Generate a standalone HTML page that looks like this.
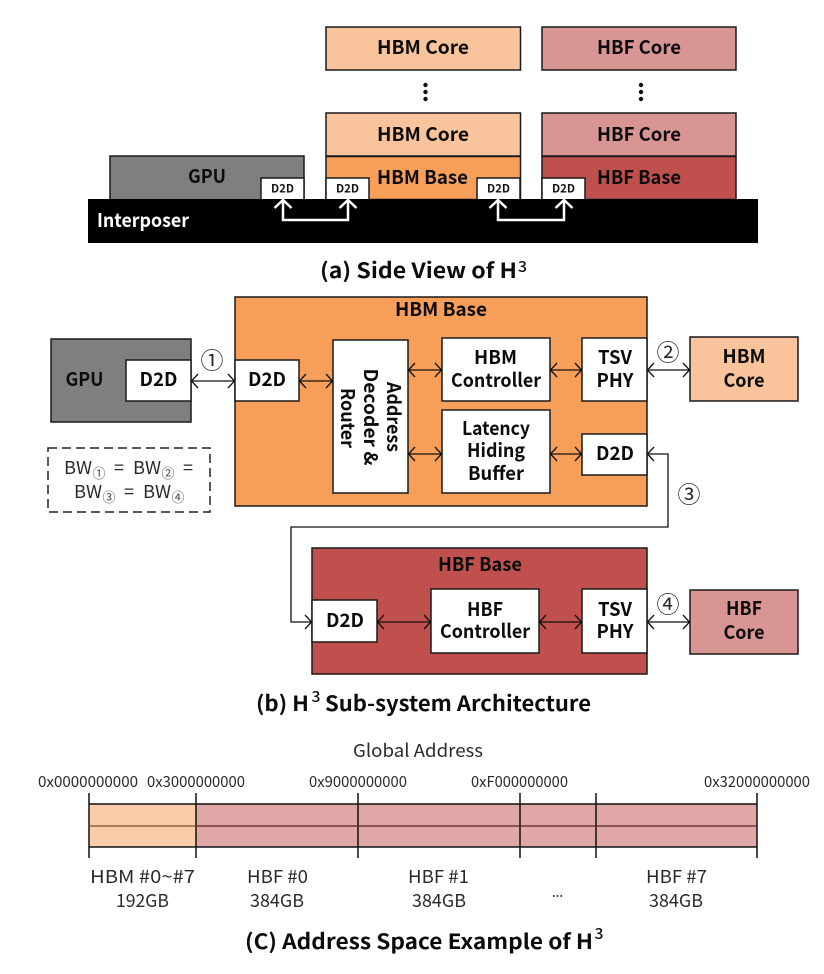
<!DOCTYPE html>
<html>
<head>
<meta charset="utf-8">
<style>
html,body{margin:0;padding:0;background:#fff;width:824px;height:974px;overflow:hidden}
svg{display:block}
text{font-family:"Noto Sans CJK KR","Liberation Sans",sans-serif}
.b{font-weight:700;font-size:19px;fill:#0c0c0c;text-anchor:middle}
.s{font-weight:700;font-size:11.500px;fill:#111;text-anchor:middle}
.t{font-weight:700;font-size:21px;fill:#0c0c0c}
.r{font-weight:400;font-size:18px;fill:#2a2a2a}
.h{font-weight:400;font-size:15px;fill:#2a2a2a}
.c{font-weight:400;font-size:23px;fill:#2a2a2a;text-anchor:middle}
.u{font-weight:400;font-size:13px;fill:#444;text-anchor:middle}
.box{stroke:#1a1a1a;stroke-width:1.5}
.w{fill:#fff;stroke:#1a1a1a;stroke-width:1.5}
.ar{fill:none;stroke:#111;stroke-width:1.3;marker-start:url(#ah);marker-end:url(#ah)}
</style>
</head>
<body>
<svg width="824" height="974" viewBox="0 0 824 974" xmlns="http://www.w3.org/2000/svg">
<defs>
<marker id="ah" markerUnits="userSpaceOnUse" markerWidth="10" markerHeight="16" refX="8" refY="8" orient="auto-start-reverse">
<path d="M1.5 1 L8 8 L1.5 15" fill="none" stroke="#111" stroke-width="1.3"/>
</marker>
</defs>

<!-- (a) side view -->
<rect class="box" x="326" y="27" width="194.500" height="43" fill="#F9C49B"/>
<rect class="box" x="542" y="27" width="194" height="43" fill="#D99594"/>
<text class="b" x="423" y="54" textLength="92" lengthAdjust="spacingAndGlyphs">HBM Core</text>
<text class="b" x="639" y="54" textLength="84" lengthAdjust="spacingAndGlyphs">HBF Core</text>
<g fill="#111">
<circle cx="425.500" cy="85" r="2.200"/><circle cx="425.500" cy="92" r="2.200"/><circle cx="425.500" cy="99" r="2.200"/>
<circle cx="641" cy="85" r="2.200"/><circle cx="641" cy="92" r="2.200"/><circle cx="641" cy="99" r="2.200"/>
</g>
<rect class="box" x="326" y="113" width="194.500" height="43" fill="#F9C49B"/>
<rect class="box" x="542" y="113" width="194" height="43" fill="#D99594"/>
<text class="b" x="423" y="141" textLength="92" lengthAdjust="spacingAndGlyphs">HBM Core</text>
<text class="b" x="639" y="141" textLength="84" lengthAdjust="spacingAndGlyphs">HBF Core</text>
<rect class="box" x="326" y="156.500" width="194.500" height="43" fill="#F79E59"/>
<rect class="box" x="542" y="156.500" width="194" height="43" fill="#C0504D"/>
<rect class="box" x="110" y="156" width="194" height="44" fill="#7F7F7F"/>
<text class="b" x="207" y="183" textLength="38" lengthAdjust="spacingAndGlyphs">GPU</text>
<text class="b" x="422.500" y="184" textLength="91" lengthAdjust="spacingAndGlyphs">HBM Base</text>
<text class="b" x="639" y="184" textLength="84" lengthAdjust="spacingAndGlyphs">HBF Base</text>
<rect class="w" x="261" y="178" width="43" height="22"/>
<rect class="w" x="326" y="178" width="43" height="22"/>
<rect class="w" x="477" y="178" width="43" height="22"/>
<rect class="w" x="542" y="178" width="43" height="22"/>
<text class="s" x="282.500" y="192.500" textLength="23" lengthAdjust="spacingAndGlyphs">D2D</text>
<text class="s" x="347.500" y="192.500" textLength="23" lengthAdjust="spacingAndGlyphs">D2D</text>
<text class="s" x="498.500" y="192.500" textLength="23" lengthAdjust="spacingAndGlyphs">D2D</text>
<text class="s" x="563.500" y="192.500" textLength="23" lengthAdjust="spacingAndGlyphs">D2D</text>
<rect x="88" y="199" width="670" height="44" fill="#000"/>
<text x="97" y="227" font-size="19" font-weight="700" fill="#fff" textLength="92" lengthAdjust="spacingAndGlyphs">Interposer</text>
<g fill="none" stroke="#fff" stroke-width="2.500">
<path d="M283 201 V220 H348 V201"/>
<path d="M274.500 208 L283 200 L291.500 208"/>
<path d="M339.500 208 L348 200 L356.500 208"/>
<path d="M498 201 V220 H564 V201"/>
<path d="M489.500 208 L498 200 L506.500 208"/>
<path d="M555.500 208 L564 200 L572.500 208"/>
</g>
<text class="t" x="320" y="278" textLength="197" lengthAdjust="spacingAndGlyphs">(a) Side View of H</text>
<text x="518" y="272" font-size="15" font-weight="500" fill="#111" textLength="9" lengthAdjust="spacingAndGlyphs">3</text>

<!-- (b) -->
<rect class="box" x="51" y="339" width="140" height="83" fill="#7F7F7F"/>
<rect class="box" x="235" y="297" width="412" height="209" fill="#F79E59"/>
<rect class="box" x="312" y="548" width="335" height="126" fill="#C0504D"/>
<rect class="w" x="126" y="360" width="65" height="41"/>
<rect class="w" x="235" y="360" width="64" height="41"/>
<rect class="w" x="333" y="340" width="75" height="153"/>
<rect class="w" x="442" y="338" width="108" height="63"/>
<rect class="w" x="442" y="410" width="108" height="83"/>
<rect class="w" x="582" y="338" width="65" height="63"/>
<rect class="w" x="582" y="434" width="65" height="41"/>
<rect class="box" x="690" y="337" width="108" height="64" fill="#F9C49B"/>
<rect class="w" x="312" y="600" width="65" height="42"/>
<rect class="w" x="431" y="589" width="108" height="64"/>
<rect class="w" x="582" y="589" width="65" height="64"/>
<rect class="box" x="690" y="590" width="108" height="64" fill="#D99594"/>
<rect x="48" y="448" width="162" height="64" fill="none" stroke="#222" stroke-width="1.500" stroke-dasharray="9 5"/>

<path class="ar" d="M191.500 381 H234.500"/>
<path class="ar" d="M299.500 381 H332.500"/>
<path class="ar" d="M408.500 370 H441.500"/>
<path class="ar" d="M550.500 370 H581.500"/>
<path class="ar" d="M647.500 370 H689.500"/>
<path class="ar" d="M408.500 454 H441.500"/>
<path class="ar" d="M550.500 454 H581.500"/>
<path class="ar" d="M647.500 454 H668 V527 H291 V622 H311.500"/>
<path class="ar" d="M377.500 622 H430.500"/>
<path class="ar" d="M539.500 622 H581.500"/>
<path class="ar" d="M647.500 622 H689.500"/>

<text class="b" x="441" y="316" textLength="92" lengthAdjust="spacingAndGlyphs">HBM Base</text>
<text class="b" x="84.500" y="386" textLength="38" lengthAdjust="spacingAndGlyphs">GPU</text>
<text class="b" x="158.500" y="386" textLength="38" lengthAdjust="spacingAndGlyphs">D2D</text>
<text class="b" x="267" y="386" textLength="38" lengthAdjust="spacingAndGlyphs">D2D</text>
<text class="b" transform="translate(387 417) rotate(90)" textLength="70" lengthAdjust="spacingAndGlyphs">Address</text>
<text class="b" transform="translate(364 417) rotate(90)" textLength="97" lengthAdjust="spacingAndGlyphs">Decoder &amp;</text>
<text class="b" transform="translate(341 418) rotate(90)" textLength="60" lengthAdjust="spacingAndGlyphs">Router</text>
<text class="b" x="495.500" y="364" textLength="43" lengthAdjust="spacingAndGlyphs">HBM</text>
<text class="b" x="496" y="387" textLength="90" lengthAdjust="spacingAndGlyphs">Controller</text>
<text class="b" x="496" y="435" textLength="68" lengthAdjust="spacingAndGlyphs">Latency</text>
<text class="b" x="496" y="457" textLength="58" lengthAdjust="spacingAndGlyphs">Hiding</text>
<text class="b" x="496" y="480" textLength="56" lengthAdjust="spacingAndGlyphs">Buffer</text>
<text class="b" x="615" y="364" textLength="34" lengthAdjust="spacingAndGlyphs">TSV</text>
<text class="b" x="615" y="387" textLength="37" lengthAdjust="spacingAndGlyphs">PHY</text>
<text class="b" x="615" y="460" textLength="38" lengthAdjust="spacingAndGlyphs">D2D</text>
<text class="b" x="744" y="363" textLength="43" lengthAdjust="spacingAndGlyphs">HBM</text>
<text class="b" x="744" y="387" textLength="41" lengthAdjust="spacingAndGlyphs">Core</text>
<text class="b" x="480" y="571" textLength="84" lengthAdjust="spacingAndGlyphs">HBF Base</text>
<text class="b" x="345" y="627" textLength="38" lengthAdjust="spacingAndGlyphs">D2D</text>
<text class="b" x="485" y="616" textLength="36" lengthAdjust="spacingAndGlyphs">HBF</text>
<text class="b" x="485" y="638" textLength="90" lengthAdjust="spacingAndGlyphs">Controller</text>
<text class="b" x="615" y="616" textLength="34" lengthAdjust="spacingAndGlyphs">TSV</text>
<text class="b" x="615" y="638" textLength="37" lengthAdjust="spacingAndGlyphs">PHY</text>
<text class="b" x="744" y="615" textLength="36" lengthAdjust="spacingAndGlyphs">HBF</text>
<text class="b" x="744" y="639" textLength="41" lengthAdjust="spacingAndGlyphs">Core</text>

<text class="c" x="212" y="368.500">①</text>
<text class="c" x="668" y="360.500">②</text>
<text class="c" x="689" y="502.500">③</text>
<text class="c" x="668" y="612.500">④</text>

<text class="r" x="64" y="474" textLength="28" lengthAdjust="spacingAndGlyphs">BW</text>
<text class="u" x="99" y="478">①</text>
<text class="r" x="114" y="474" textLength="10" lengthAdjust="spacingAndGlyphs">=</text>
<text class="r" x="133" y="474" textLength="28" lengthAdjust="spacingAndGlyphs">BW</text>
<text class="u" x="168" y="478">②</text>
<text class="r" x="183" y="474" textLength="10" lengthAdjust="spacingAndGlyphs">=</text>
<text class="r" x="74" y="498" textLength="28" lengthAdjust="spacingAndGlyphs">BW</text>
<text class="u" x="109" y="502">③</text>
<text class="r" x="124" y="498" textLength="10" lengthAdjust="spacingAndGlyphs">=</text>
<text class="r" x="143" y="498" textLength="28" lengthAdjust="spacingAndGlyphs">BW</text>
<text class="u" x="178" y="502">④</text>

<text class="t" x="256" y="711" textLength="53" lengthAdjust="spacingAndGlyphs">(b) H</text>
<text x="311.500" y="702" font-size="15" font-weight="500" fill="#111" textLength="9" lengthAdjust="spacingAndGlyphs">3</text>
<text class="t" x="325" y="711" textLength="266" lengthAdjust="spacingAndGlyphs">Sub-system Architecture</text>

<!-- (c) -->
<text class="r" x="353" y="757" textLength="130" lengthAdjust="spacingAndGlyphs">Global Address</text>
<text class="h" x="38" y="787" textLength="100" lengthAdjust="spacingAndGlyphs">0x0000000000</text>
<text class="h" x="147" y="787" textLength="98" lengthAdjust="spacingAndGlyphs">0x3000000000</text>
<text class="h" x="309" y="787" textLength="98" lengthAdjust="spacingAndGlyphs">0x9000000000</text>
<text class="h" x="471" y="787" textLength="97" lengthAdjust="spacingAndGlyphs">0xF000000000</text>
<text class="h" x="704" y="787" textLength="106" lengthAdjust="spacingAndGlyphs">0x32000000000</text>

<rect x="89" y="804" width="107" height="43" fill="#FACDA8"/>
<rect x="196" y="804" width="561" height="43" fill="#DFA7A5"/>
<g stroke="#111" stroke-width="1.500" fill="none">
<path d="M89 804 H757 M89 847 H757"/>
<path d="M89 793 V858 M196 793 V858 M358 793 V858 M520 793 V858 M596 793 V858 M757 793 V858"/>
</g>
<path d="M89 826 H196" stroke="#7A5030" stroke-width="1.200"/>
<path d="M196 826 H757" stroke="#5A2020" stroke-width="1.200"/>

<text class="r" x="90" y="883" textLength="105" lengthAdjust="spacingAndGlyphs">HBM #0~#7</text>
<text class="r" x="116" y="907" textLength="53" lengthAdjust="spacingAndGlyphs">192GB</text>
<text class="r" x="247" y="883" textLength="61" lengthAdjust="spacingAndGlyphs">HBF #0</text>
<text class="r" x="250" y="907" textLength="54" lengthAdjust="spacingAndGlyphs">384GB</text>
<text class="r" x="408" y="883" textLength="61" lengthAdjust="spacingAndGlyphs">HBF #1</text>
<text class="r" x="412" y="907" textLength="54" lengthAdjust="spacingAndGlyphs">384GB</text>
<text class="h" x="552" y="897" textLength="11" lengthAdjust="spacingAndGlyphs">...</text>
<text class="r" x="646" y="883" textLength="61" lengthAdjust="spacingAndGlyphs">HBF #7</text>
<text class="r" x="649" y="907" textLength="54" lengthAdjust="spacingAndGlyphs">384GB</text>

<text class="t" x="245" y="949" textLength="348" lengthAdjust="spacingAndGlyphs">(C) Address Space Example of H</text>
<text x="594.500" y="939" font-size="15" font-weight="500" fill="#111" textLength="9" lengthAdjust="spacingAndGlyphs">3</text>
</svg>
</body>
</html>
